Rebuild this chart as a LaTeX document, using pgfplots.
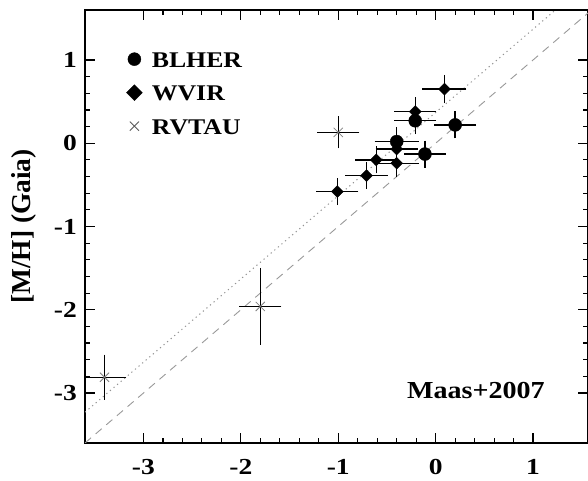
\documentclass[border=0pt]{standalone}
\usepackage{fontspec}
\setmainfont{Liberation Serif}[FakeStretch=1.15]
\newfontfamily\plainfont{Liberation Serif}
\newfontfamily\tickfont{Liberation Serif}[FakeStretch=1.2]
\usepackage{pgfplots}
\pgfplotsset{compat=1.18}
\begin{document}
\begin{tikzpicture}
\begin{axis}[
  scale only axis, width=503bp, height=433bp,
  xmin=-3.6, xmax=1.564, ymin=-3.6, ymax=1.6,
  xtick={-3,-2,-1,0,1}, ytick={-3,-2,-1,0,1},
  minor x tick num=4, minor y tick num=4,
  tick align=inside, major tick length=10bp, minor tick length=5bp,
  axis line style={line width=1.6bp},
  every tick/.style={black, line width=1.2bp},
  /pgf/number format/assume math mode=true,
  tick label style={font=\tickfont\fontsize{23}{25}\selectfont\bfseries},
  xticklabel style={inner sep=1bp, yshift=-15bp},
  yticklabel style={inner sep=1bp, xshift=-7bp},
  ylabel={[M/H] (Gaia)},
  every axis y label/.style={at={(axis description cs:-0.121,0.5)},rotate=90,anchor=center,font=\plainfont\fontsize{27.5}{30}\selectfont\bfseries},
  legend style={draw=none, fill=none, inner sep=0pt, outer sep=0pt,
    at={(rel axis cs:0.0825,0.905)}, anchor=north west,
    font=\fontsize{22.5}{24}\selectfont\bfseries,
    nodes={inner sep=0pt, text height=16bp, text depth=0pt},
    row sep=17.5bp, column sep=9.5bp},
  legend cell align=left,
]
\addlegendimage{only marks, mark=*, black, mark size=6.5bp}
\addlegendentry{BLHER}
\addlegendimage{only marks, mark=square*, black, mark size=5.6bp, mark options={rotate=45}}
\addlegendentry{WVIR}
\addlegendimage{only marks, mark=x, black!65, mark size=6.5bp, mark options={line width=0.8bp}}
\addlegendentry{RVTAU}

% reference lines
\addplot[forget plot, gray!80, line width=0.9bp, dash pattern=on 8bp off 6bp] coordinates {(-3.6,-3.6) (1.6,1.6)};
\addplot[forget plot, gray!85, line width=1bp, dash pattern=on 1.2bp off 3.5bp] coordinates {(-3.6,-3.23) (1.23,1.6)};

% RVTAU
\addplot[forget plot, only marks, mark=x, mark size=6.5bp, mark options={black!50, line width=0.8bp},
  error bars/.cd, x dir=both, x explicit, y dir=both, y explicit,
  error bar style={line width=1.4bp, black},
  error mark options={black, line width=1.4bp, mark size=3.5bp}]
  table[x=x, y=y, x error=ex, y error=ey] {
x y ex ey
-1.00 0.13 0.18 0.15
-1.80 -1.96 0.18 0.42
-3.40 -2.81 0.19 0.23
};

% WVIR
\addplot[forget plot, only marks, mark=square*, mark size=4.2bp, mark options={black, rotate=45},
  error bars/.cd, x dir=both, x explicit, y dir=both, y explicit,
  error bar style={line width=1.4bp, black},
  error mark options={black, line width=1.4bp, mark size=3.5bp}]
  table[x=x, y=y, x error=ex, y error=ey] {
x y ex ey
0.09 0.65 0.19 0.13
-0.21 0.38 0.18 0.13
-0.40 -0.07 0.18 0.12
-0.61 -0.20 0.18 0.12
-0.40 -0.24 0.19 0.12
-0.71 -0.39 0.18 0.12
-1.01 -0.58 0.18 0.12
};

% BLHER
\addplot[forget plot, only marks, mark=*, mark size=6.5bp, mark options={black},
  error bars/.cd, x dir=both, x explicit, y dir=both, y explicit,
  error bar style={line width=1.4bp, black},
  error mark options={black, line width=1.4bp, mark size=3.5bp}]
  table[x=x, y=y, x error=ex, y error=ey] {
x y ex ey
-0.21 0.27 0.18 0.12
0.20 0.22 0.18 0.12
-0.40 0.02 0.19 0.13
-0.11 -0.13 0.18 0.12
};

\node[font=\fontsize{24.5}{27}\selectfont\bfseries] at (rel axis cs:0.777,0.122) {Maas+2007};
\end{axis}
\pgfresetboundingbox
\useasboundingbox (-85bp,-38bp) rectangle (503bp,443bp);
\end{tikzpicture}
\end{document}
